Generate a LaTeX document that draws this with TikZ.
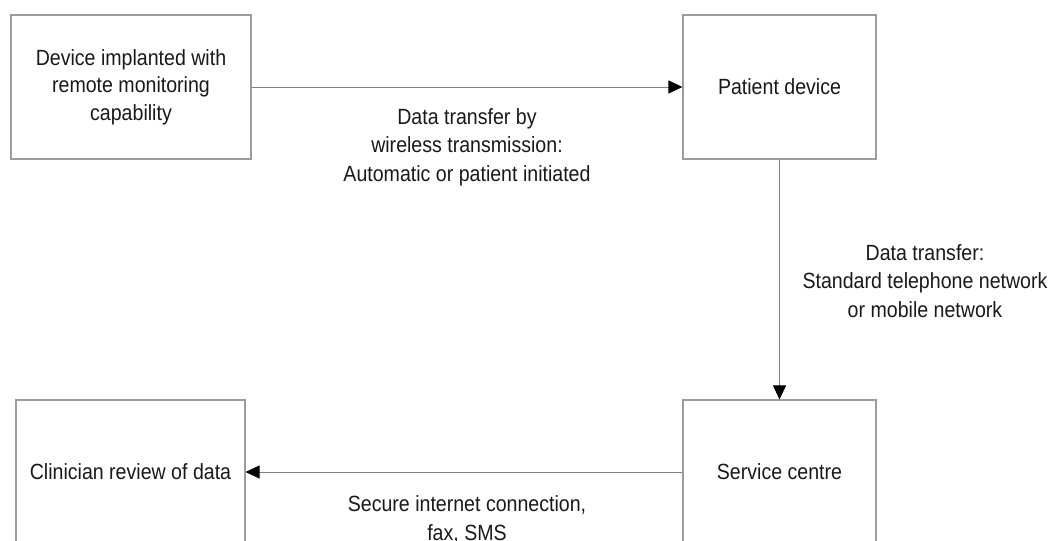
\documentclass[tikz,border=0pt]{standalone}
\usepackage{fontspec}
\setmainfont[FakeStretch=0.89]{Liberation Sans}
\usetikzlibrary{arrows.meta}
\definecolor{boxgray}{HTML}{9C9C9C}
\definecolor{linegray}{HTML}{808080}
\begin{document}
\begin{tikzpicture}[x=1pt,y=-1pt,
  box/.style={draw=boxgray,line width=1.1pt,minimum width=#1,minimum height=144pt,inner sep=0pt,align=center,
    font=\fontsize{22}{27.5}\selectfont,text=black!90},
  lbl/.style={align=center,inner sep=0pt,font=\fontsize{22}{28.5}\selectfont,text=black!90},
  conn/.style={draw=linegray,line width=0.9pt,-{Triangle[length=14pt,width=13pt,color=black]}}]
\useasboundingbox (0,0) rectangle (1050,541);
\clip (0,0) rectangle (1050,541);
\node[box=240pt] (dev) at (131,87) {Device implanted with\\remote monitoring\\capability};
\node[box=193pt] (pat) at (779.5,87) {Patient device};
\node[box=193pt] (svc) at (779.5,472) {Service centre};
\node[box=229pt] (cli) at (130.5,472) {Clinician review of data};
\draw[conn] (dev.east) -- (pat.west);
\draw[conn] (pat.south) -- (svc.north);
\draw[conn] (svc.west) -- (cli.east);
\node[lbl,anchor=base] (l1) at (467,181) {Data transfer by\\wireless transmission:\\Automatic or patient initiated};
\node[lbl,anchor=base] (l2) at (925,317) {Data transfer:\\Standard telephone network\\or mobile network};
\node[lbl,anchor=base] (l3) at (467,540) {Secure internet connection,\\fax, SMS};
\end{tikzpicture}
\end{document}
